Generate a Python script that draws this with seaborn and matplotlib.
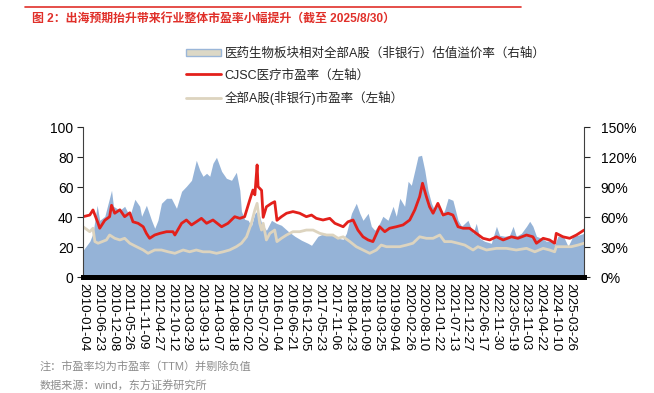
import numpy as np
import pandas as pd
import matplotlib
matplotlib.use("Agg")
import matplotlib.pyplot as plt
import seaborn as sns
from matplotlib.patches import Patch
from matplotlib.lines import Line2D

# premium of pharma sector vs all A-share (non-bank), % (right axis)
prem_t = [2010.00, 2010.21, 2010.31, 2010.44, 2010.52, 2010.68, 2010.89, 2010.95, 2011.15, 2011.30,
          2011.46, 2011.62, 2011.77, 2011.83, 2011.98, 2012.14, 2012.24, 2012.34, 2012.45, 2012.61,
          2012.76, 2012.92, 2013.08, 2013.23, 2013.39, 2013.54, 2013.65, 2013.75, 2013.86, 2013.96,
          2014.06, 2014.17, 2014.33, 2014.48, 2014.64, 2014.79, 2014.90, 2014.95, 2015.05, 2015.16,
          2015.26, 2015.37, 2015.47, 2015.58, 2015.73, 2015.89, 2016.04, 2016.20, 2016.41, 2016.62,
          2016.83, 2017.03, 2017.14, 2017.34, 2017.55, 2017.76, 2017.97, 2018.13, 2018.23, 2018.39,
          2018.54, 2018.65, 2018.75, 2018.91, 2019.01, 2019.12, 2019.27, 2019.37, 2019.53, 2019.69,
          2019.79, 2019.90, 2020.05, 2020.16, 2020.26, 2020.37, 2020.47, 2020.58, 2020.68, 2020.78,
          2020.89, 2020.99, 2021.09, 2021.20, 2021.30, 2021.41, 2021.56, 2021.72, 2021.83, 2022.03,
          2022.19, 2022.29, 2022.40, 2022.55, 2022.76, 2022.92, 2023.02, 2023.18, 2023.33, 2023.44,
          2023.54, 2023.70, 2023.86, 2023.96, 2024.06, 2024.17, 2024.33, 2024.48, 2024.64, 2024.74,
          2024.84, 2025.00, 2025.16, 2025.31, 2025.47, 2025.66]
prem_v = [27, 36, 44, 72, 57, 61, 87, 71, 67, 71,
          61, 78, 71, 61, 72, 57, 49, 57, 74, 79,
          79, 69, 86, 91, 97, 117, 107, 101, 104, 101,
          114, 120, 106, 99, 97, 105, 87, 66, 58, 57,
          51, 64, 67, 54, 47, 57, 54, 52, 46, 41,
          37, 34, 32, 41, 44, 42, 39, 38, 44, 64,
          74, 64, 57, 64, 51, 47, 54, 61, 57, 71,
          61, 79, 71, 96, 92, 107, 121, 122, 107, 87,
          74, 67, 74, 61, 67, 79, 77, 57, 51, 57,
          44, 54, 39, 36, 34, 51, 42, 41, 42, 51,
          41, 44, 51, 56, 51, 41, 39, 36, 37, 32,
          41, 42, 31, 41, 42, 44]

# CJSC medical PE (left axis)
cjsc_t = [2010.00, 2010.21, 2010.31, 2010.47, 2010.52, 2010.68, 2010.83, 2010.89, 2010.99, 2011.15,
          2011.30, 2011.46, 2011.56, 2011.72, 2011.88, 2011.98, 2012.08, 2012.24, 2012.40, 2012.61,
          2012.81, 2012.87, 2013.08, 2013.23, 2013.39, 2013.54, 2013.70, 2013.86, 2014.06, 2014.33,
          2014.53, 2014.74, 2014.90, 2015.05, 2015.21, 2015.31, 2015.37, 2015.44, 2015.47, 2015.58,
          2015.63, 2015.73, 2015.89, 2015.99, 2016.06, 2016.20, 2016.36, 2016.56, 2016.77, 2016.98,
          2017.14, 2017.29, 2017.50, 2017.71, 2017.87, 2018.13, 2018.28, 2018.44, 2018.59, 2018.75,
          2018.91, 2019.06, 2019.27, 2019.43, 2019.58, 2019.79, 2020.00, 2020.21, 2020.37, 2020.52,
          2020.61, 2020.73, 2020.83, 2020.94, 2021.09, 2021.25, 2021.41, 2021.56, 2021.72, 2021.88,
          2022.08, 2022.29, 2022.50, 2022.71, 2022.92, 2023.13, 2023.39, 2023.59, 2023.86, 2024.06,
          2024.17, 2024.38, 2024.58, 2024.74, 2024.79, 2025.00, 2025.21, 2025.42, 2025.66]
cjsc_v = [40.4, 41.5, 44.9, 36.0, 32.7, 38.0, 40.4, 48.0, 42.7, 45.0,
          40.4, 43.0, 37.0, 36.0, 33.7, 29.3, 26.0, 28.2, 29.3, 30.4,
          30.4, 28.2, 36.0, 38.2, 34.9, 37.0, 39.3, 36.0, 38.2, 33.7,
          36.0, 40.4, 39.3, 40.4, 51.5, 58.2, 55.0, 74.9, 60.4, 58.0,
          40.0, 47.0, 49.3, 50.4, 38.0, 40.4, 42.7, 43.8, 42.7, 40.4,
          41.5, 39.3, 38.2, 39.3, 36.0, 33.7, 37.0, 38.2, 31.5, 27.0,
          24.9, 23.8, 33.7, 30.4, 32.7, 33.7, 34.9, 38.2, 45.0, 53.8,
          62.7, 53.8, 47.0, 42.7, 49.3, 41.5, 42.7, 41.5, 33.7, 32.7,
          32.7, 29.3, 26.0, 24.9, 27.0, 24.9, 27.0, 26.0, 28.2, 27.0,
          22.7, 26.0, 24.9, 22.7, 29.3, 27.0, 26.0, 28.2, 31.5]

# all A-share (non-bank) PE (left axis)
alla_t = [2010.00, 2010.21, 2010.31, 2010.37, 2010.47, 2010.73, 2010.83, 2010.99, 2011.15, 2011.30,
          2011.46, 2011.67, 2011.88, 2012.03, 2012.24, 2012.45, 2012.66, 2012.87, 2013.13, 2013.33,
          2013.54, 2013.75, 2013.96, 2014.17, 2014.38, 2014.58, 2014.79, 2014.95, 2015.11, 2015.26,
          2015.37, 2015.44, 2015.52, 2015.58, 2015.63, 2015.73, 2015.84, 2015.99, 2016.06, 2016.20,
          2016.36, 2016.56, 2016.77, 2016.98, 2017.19, 2017.40, 2017.61, 2017.81, 2017.97, 2018.13,
          2018.34, 2018.54, 2018.75, 2018.96, 2019.17, 2019.32, 2019.48, 2019.69, 2019.90, 2020.11,
          2020.31, 2020.52, 2020.73, 2020.94, 2021.15, 2021.30, 2021.51, 2021.72, 2021.93, 2022.19,
          2022.34, 2022.61, 2022.92, 2023.23, 2023.54, 2023.86, 2024.12, 2024.38, 2024.58, 2024.74,
          2024.79, 2025.00, 2025.26, 2025.47, 2025.66]
alla_v = [33.7, 30.4, 32.7, 23.8, 22.7, 24.9, 28.2, 26.0, 24.9, 26.0,
          22.7, 20.4, 18.2, 16.0, 18.2, 18.2, 17.0, 16.0, 18.2, 17.0,
          18.2, 17.0, 17.0, 16.0, 17.0, 18.2, 20.4, 22.7, 27.0, 36.0,
          44.9, 49.3, 36.0, 31.5, 36.0, 24.9, 29.3, 31.5, 23.8, 26.0,
          28.2, 30.4, 30.4, 31.5, 31.5, 29.3, 28.2, 28.2, 26.0, 27.0,
          23.8, 20.4, 18.2, 16.0, 18.2, 21.5, 20.4, 20.4, 20.4, 21.5,
          22.7, 27.0, 26.0, 26.0, 28.2, 23.8, 23.8, 22.7, 21.5, 18.2,
          20.4, 18.2, 19.3, 19.3, 18.2, 19.3, 17.0, 19.3, 18.2, 17.0,
          20.4, 20.4, 20.4, 21.5, 22.7]

tick_labels = ["2010-01-04", "2010-06-23", "2010-12-08", "2011-05-26", "2011-11-09", "2012-04-27",
               "2012-10-12", "2013-03-29", "2013-09-13", "2014-03-07", "2014-08-18", "2015-02-02",
               "2015-07-20", "2016-01-04", "2016-06-21", "2016-12-05", "2017-05-23", "2017-11-06",
               "2018-04-23", "2018-10-09", "2019-03-25", "2019-09-04", "2020-02-26", "2020-08-10",
               "2021-01-22", "2021-07-13", "2021-12-27", "2022-06-17", "2022-11-30", "2023-05-19",
               "2023-11-03", "2024-04-22", "2024-10-10", "2025-03-26"]

labels = ["医药生物板块相对全部A股（非银行）估值溢价率（右轴）",
          "CJSC医疗市盈率（左轴）",
          "全部A股(非银行)市盈率（左轴）"]


def to_dates(t):
    return pd.Timestamp("2010-01-01") + pd.to_timedelta((np.array(t) - 2010) * 365.25, unit="D")


BLUE = "#95b3d7"
RED = "#e3201b"
BEIGE = "#ddd4bf"

sns.set_theme(style="white")
plt.rcParams["font.family"] = ["Liberation Sans", "Noto Sans CJK SC", "DejaVu Sans"]

fig = plt.figure(figsize=(6.54, 3.93), dpi=100)
ax = fig.add_axes([0.1274, 0.2944, 0.7656, 0.3817])
ax2 = ax.twinx()

prem_df = pd.DataFrame({"date": to_dates(prem_t), "v": prem_v})
ax2.fill_between(prem_df["date"], 0, prem_df["v"], color=BLUE, linewidth=0)
ax2.set_ylim(0, 150)
ax2.set_yticks(range(0, 151, 30))
ax2.set_yticklabels([f"{v}%" for v in range(0, 151, 30)])

sns.lineplot(x=to_dates(alla_t), y=alla_v, ax=ax, color=BEIGE, linewidth=2)
sns.lineplot(x=to_dates(cjsc_t), y=cjsc_v, ax=ax, color=RED, linewidth=2)
ax.set_zorder(ax2.get_zorder() + 1)
ax.patch.set_visible(False)
ax.set_ylim(0, 100)
ax.set_yticks(range(0, 101, 20))

ticks = pd.to_datetime(tick_labels)
ax.set_xlim(pd.Timestamp("2010-01-04"), pd.Timestamp("2025-08-29"))
ax.set_xticks(ticks)
ax.set_xticklabels(tick_labels, rotation=-90, fontsize=9.5, ha="center", va="top")
ax.tick_params(axis="x", length=0, pad=4, labelcolor="black")
ax.tick_params(axis="y", direction="out", length=4, width=0.8, labelsize=10, left=True, pad=3,
               labelcolor="black")
ax2.tick_params(axis="y", direction="out", length=4, width=0.8, labelsize=10, right=True, pad=8,
                labelcolor="black")
ax.set_xlabel("")
ax.set_ylabel("")

for a in (ax, ax2):
    a.spines["top"].set_visible(False)
    a.spines["left"].set_color("#404040")
    a.spines["right"].set_color("#404040")
    a.spines["left"].set_linewidth(0.8)
    a.spines["right"].set_linewidth(0.8)
    a.spines["bottom"].set_color("black")
    a.spines["bottom"].set_linewidth(3.5)
ax.spines["right"].set_visible(False)
ax2.spines["left"].set_visible(False)

handles = [Patch(facecolor="#dcd8c6", edgecolor="#9ab6d8", linewidth=1),
           Line2D([], [], color=RED, linewidth=2),
           Line2D([], [], color=BEIGE, linewidth=2)]
fig.legend(handles, labels, loc="upper left", bbox_to_anchor=(0.275, 0.895), frameon=False,
           fontsize=9, handlelength=2.8, handleheight=0.55, labelspacing=0.75, handletextpad=0.3,
           borderpad=0)

# title and header rule
fig.add_artist(Line2D([0.038, 0.797], [0.982, 0.982], color="#e0302a", linewidth=1.2))
fig.text(0.049, 0.953, "图 2：出海预期抬升带来行业整体市盈率小幅提升（截至 2025/8/30）",
         color="#e0302a", fontsize=8.6, fontweight="bold", va="center", ha="left")

fig.text(0.061, 0.068, "注：市盈率均为市盈率（TTM）并剔除负值", color="#8c8c8c", fontsize=8,
         va="center", ha="left")
fig.text(0.061, 0.018, "数据来源：wind，东方证券研究所", color="#8c8c8c", fontsize=8,
         va="center", ha="left")

fig.savefig("out.png", dpi=100)
